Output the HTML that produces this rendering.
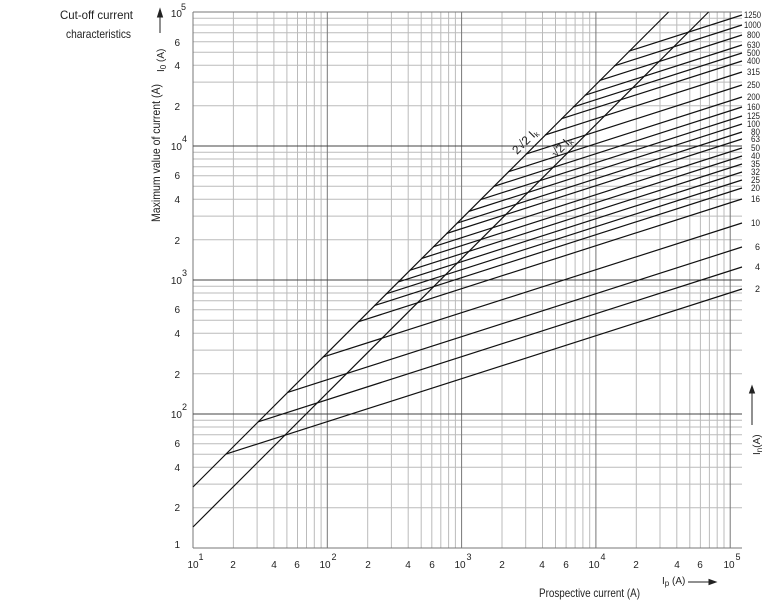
<!DOCTYPE html>
<html><head><meta charset="utf-8"><style>
html,body{margin:0;padding:0;background:#fff;}
svg{display:block;font-family:"Liberation Sans",sans-serif;}
</style></head><body>
<svg width="762" height="600" viewBox="0 0 762 600" xmlns="http://www.w3.org/2000/svg">
<g stroke="#bbb" stroke-width="1" fill="none">
<path d="M233.4 12V548M257.1 12V548M273.9 12V548M286.9 12V548M297.5 12V548M306.5 12V548M314.3 12V548M321.1 12V548
M367.7 12V548M391.4 12V548M408.2 12V548M421.2 12V548M431.8 12V548M440.8 12V548M448.6 12V548M455.4 12V548
M502 12V548M525.7 12V548M542.5 12V548M555.5 12V548M566.1 12V548M575.1 12V548M582.9 12V548M589.7 12V548
M636.3 12V548M660 12V548M676.8 12V548M689.8 12V548M700.4 12V548M709.4 12V548M717.2 12V548M724 12V548"/>
<path d="M193 507.7H742M193 484.1H742M193 467.3H742M193 454.3H742M193 443.7H742M193 434.8H742M193 427H742M193 420.2H742
M193 373.7H742M193 350.1H742M193 333.3H742M193 320.3H742M193 309.7H742M193 300.8H742M193 293H742M193 286.2H742
M193 239.7H742M193 216.1H742M193 199.3H742M193 186.3H742M193 175.7H742M193 166.8H742M193 159H742M193 152.2H742
M193 105.7H742M193 82.1H742M193 65.3H742M193 52.3H742M193 41.7H742M193 32.8H742M193 25H742M193 18.2H742"/>
</g>
<g stroke="#777" stroke-width="1" fill="none">
<path d="M193 12V548M327.3 12V548M461.6 12V548M595.9 12V548M730.2 12V548M193 548H742M193 12H742"/>
</g>
<g stroke="#444" stroke-width="1.1" fill="none">
<path d="M193 414H742M193 280H742M193 146H742"/>
</g>
<g stroke="#111" stroke-width="1.2" fill="none">
<path d="M193 487L668.6 12M193 527L708.6 12"/>
<path d="M628.8 51.2L742 15M614.1 65.9L742 25M599.4 80.6L742 35M584.7 95.3L742 45M572.9 107.1L742 53M561.2 118.8L742 61M545 135L742 72M525.9 154.1L742 85M508.2 171.8L742 97M493.5 186.5L742 107M480.3 199.7L742 116M468.5 211.5L742 124M456.8 223.2L742 132M446.5 233.5L742 139M433.2 246.8L742 148M421.5 258.5L742 156M409.7 270.3L742 164M397.9 282.1L742 172M386.2 293.8L742 180M374.4 305.6L742 188M358.2 321.8L742 199M322.9 357.1L742 223M287.6 392.4L742 247M258.2 421.8L742 267M225.9 454.1L742 289"/>
</g>
<g font-size="9" fill="#222" lengthAdjust="spacingAndGlyphs">
<text x="744" y="18" textLength="17" lengthAdjust="spacingAndGlyphs">1250</text>
<text x="744" y="28" textLength="17" lengthAdjust="spacingAndGlyphs">1000</text>
<text x="747" y="38" textLength="13" lengthAdjust="spacingAndGlyphs">800</text>
<text x="747" y="48" textLength="13" lengthAdjust="spacingAndGlyphs">630</text>
<text x="747" y="56" textLength="13" lengthAdjust="spacingAndGlyphs">500</text>
<text x="747" y="64" textLength="13" lengthAdjust="spacingAndGlyphs">400</text>
<text x="747" y="75" textLength="13" lengthAdjust="spacingAndGlyphs">315</text>
<text x="747" y="88" textLength="13" lengthAdjust="spacingAndGlyphs">250</text>
<text x="747" y="100" textLength="13" lengthAdjust="spacingAndGlyphs">200</text>
<text x="747" y="110" textLength="13" lengthAdjust="spacingAndGlyphs">160</text>
<text x="747" y="119" textLength="13" lengthAdjust="spacingAndGlyphs">125</text>
<text x="747" y="127" textLength="13" lengthAdjust="spacingAndGlyphs">100</text>
<text x="751" y="135" textLength="9" lengthAdjust="spacingAndGlyphs">80</text>
<text x="751" y="142" textLength="9" lengthAdjust="spacingAndGlyphs">63</text>
<text x="751" y="151" textLength="9" lengthAdjust="spacingAndGlyphs">50</text>
<text x="751" y="159" textLength="9" lengthAdjust="spacingAndGlyphs">40</text>
<text x="751" y="167" textLength="9" lengthAdjust="spacingAndGlyphs">35</text>
<text x="751" y="175" textLength="9" lengthAdjust="spacingAndGlyphs">32</text>
<text x="751" y="183" textLength="9" lengthAdjust="spacingAndGlyphs">25</text>
<text x="751" y="191" textLength="9" lengthAdjust="spacingAndGlyphs">20</text>
<text x="751" y="202" textLength="9" lengthAdjust="spacingAndGlyphs">16</text>
<text x="751" y="226" textLength="9" lengthAdjust="spacingAndGlyphs">10</text>
<text x="755" y="250">6</text><text x="755" y="270">4</text><text x="755" y="292">2</text>
</g>
<g font-size="10" fill="#222" text-anchor="end">
<text x="182" y="17">10</text><text x="186" y="10" font-size="9">5</text>
<text x="180" y="46">6</text><text x="180" y="69">4</text><text x="180" y="110">2</text>
<text x="182" y="150">10</text><text x="187" y="142" font-size="9">4</text>
<text x="180" y="179">6</text><text x="180" y="203">4</text><text x="180" y="244">2</text>
<text x="182" y="284">10</text><text x="187" y="276" font-size="9">3</text>
<text x="180" y="313">6</text><text x="180" y="337">4</text><text x="180" y="378">2</text>
<text x="182" y="418">10</text><text x="187" y="410" font-size="9">2</text>
<text x="180" y="447">6</text><text x="180" y="471">4</text><text x="180" y="511">2</text><text x="180" y="548">1</text>
</g>
<g font-size="10" fill="#222" text-anchor="middle">
<text x="193" y="568">10</text><text x="201" y="560" font-size="9">1</text>
<text x="233" y="568">2</text><text x="274" y="568">4</text><text x="297" y="568">6</text>
<text x="325" y="568">10</text><text x="334" y="560" font-size="9">2</text>
<text x="368" y="568">2</text><text x="408" y="568">4</text><text x="432" y="568">6</text>
<text x="460" y="568">10</text><text x="469" y="560" font-size="9">3</text>
<text x="502" y="568">2</text><text x="542" y="568">4</text><text x="566" y="568">6</text>
<text x="594" y="568">10</text><text x="603" y="560" font-size="9">4</text>
<text x="636" y="568">2</text><text x="677" y="568">4</text><text x="700" y="568">6</text>
<text x="729" y="568">10</text><text x="738" y="560" font-size="9">5</text>
</g>
<g font-size="12" fill="#222">
<text x="60" y="19" textLength="73" lengthAdjust="spacingAndGlyphs">Cut-off current</text>
<text x="66" y="38" textLength="65" lengthAdjust="spacingAndGlyphs">characteristics</text>
<text transform="translate(160,222) rotate(-90)" textLength="138" lengthAdjust="spacingAndGlyphs">Maximum value of current (A)</text>
<text transform="translate(164,72) rotate(-90)" font-size="10">I<tspan font-size="8" dy="2">0</tspan><tspan dy="-2"> (A)</tspan></text>
<text transform="translate(760,455) rotate(-90)" font-size="10">I<tspan font-size="8" dy="2">n</tspan><tspan dy="-2">(A)</tspan></text>
<text x="539" y="597" textLength="101" lengthAdjust="spacingAndGlyphs">Prospective current (A)</text>
<text x="662" y="584" font-size="10">I<tspan font-size="8" dy="2">p</tspan><tspan dy="-2"> (A)</tspan></text>
<text transform="translate(517,155) rotate(-45)" font-size="12">2√2 I<tspan font-size="8" dy="2">k</tspan></text>
<text transform="translate(556,158) rotate(-45)" font-size="12">√2 I<tspan font-size="8" dy="2">k</tspan></text>
</g>
<g stroke="#222" stroke-width="1" fill="#222">
<path d="M160 33V14" fill="none"/><path d="M157.5 17L160 9L162.5 17Z"/>
<path d="M752 425V390" fill="none"/><path d="M749.5 393L752 386L754.5 393Z"/>
<path d="M688 582H712" fill="none"/><path d="M709 579.5L716 582L709 584.5Z"/>
</g>
</svg>
</body></html>
